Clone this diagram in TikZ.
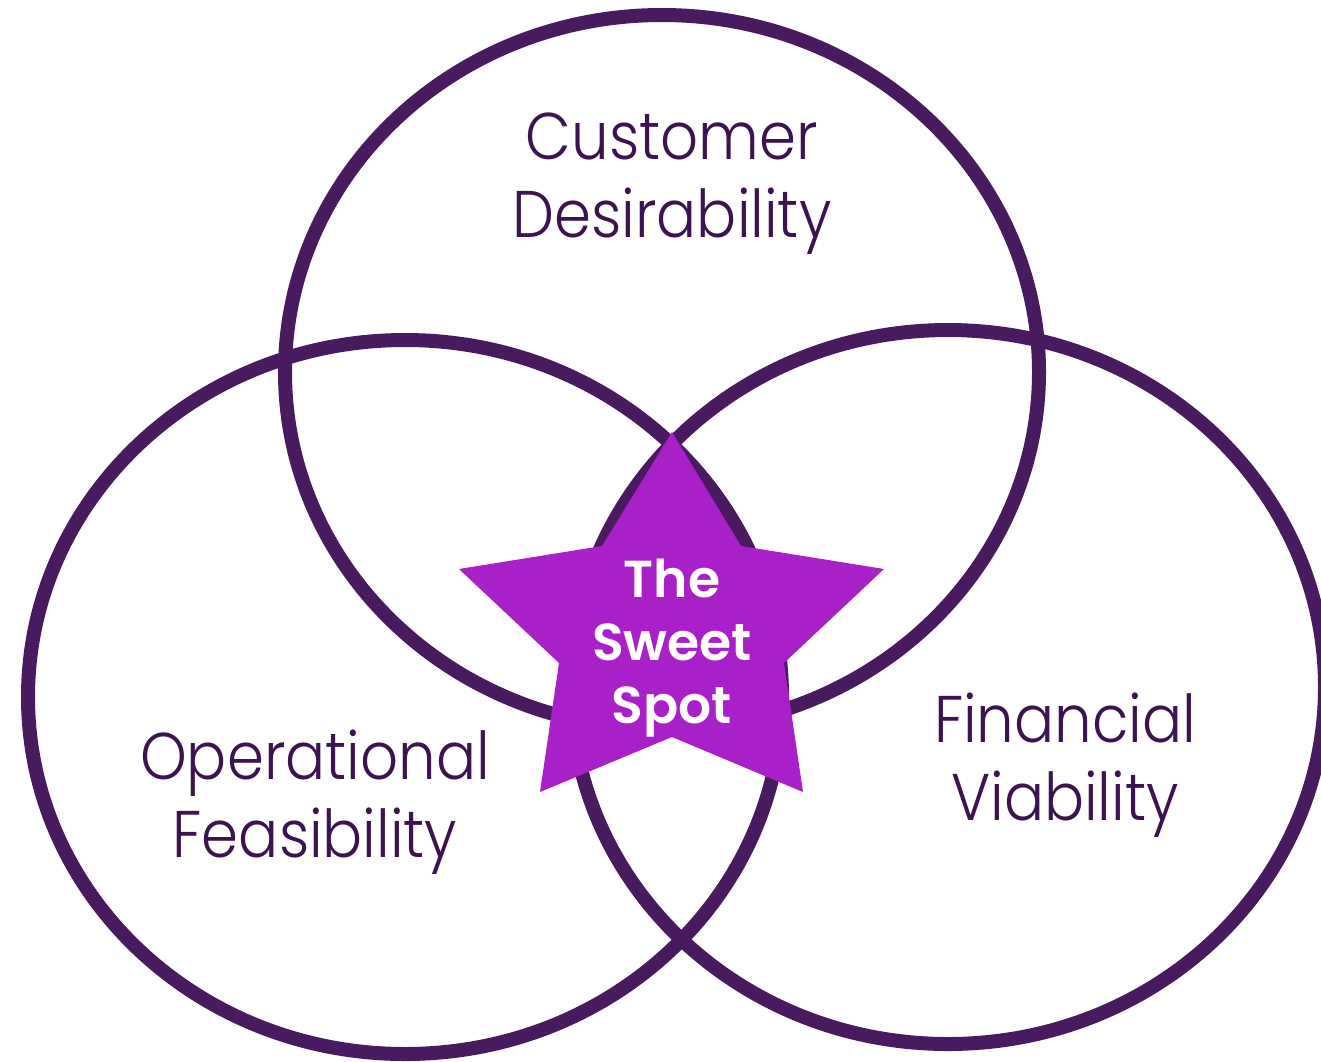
\documentclass[tikz,border=0pt]{standalone}
\usepackage{fontspec}
\newfontfamily\lightfont{Poppins Light}
\newfontfamily\heavyfont{Poppins SemiBold}
\definecolor{ring}{HTML}{4A1A61}
\definecolor{labeltext}{HTML}{3A1350}
\definecolor{starfill}{HTML}{AA20C8}
\newcommand\narrow[1]{\scalebox{0.9}[1]{#1}}
\tikzset{
  ringline/.style={draw=ring, line width=14pt},
  biglabel/.style={text=labeltext, align=center, inner sep=0pt, font=\lightfont\fontsize{66}{78}\selectfont},
  starlabel/.style={text=white, align=center, inner sep=0pt, font=\heavyfont\fontsize{52}{63}\selectfont},
}
\begin{document}
\begin{tikzpicture}[x=1pt, y=-1pt]
\useasboundingbox (0,0) rectangle (1321,1061);
\fill[white] (0,0) rectangle (1321,1061);
% circles
\draw[ringline] (662,372) ellipse [x radius=377, y radius=357];
\draw[ringline] (405,697) ellipse [x radius=377, y radius=357];
\draw[ringline] (948,687) ellipse [x radius=377, y radius=357];
% star
\fill[starfill] (672,432) -- (741,546) -- (884,569) -- (784,663) -- (803,792)
  -- (672,737) -- (540,792) -- (559,663) -- (459,569) -- (602,546) -- cycle;
% labels
\node[biglabel] (cust) at (672,184) {\narrow{Customer}\\\narrow{Desirability}};
\node[biglabel] (oper) at (315,802) {\narrow{Operational}\\\narrow{Feasibility}};
\node[biglabel] (fin) at (1065,765) {\narrow{Financial}\\\narrow{Viability}};
\node[starlabel] (sweet) at (672,648) {The\\Sweet\\Spot};
\end{tikzpicture}
\end{document}
